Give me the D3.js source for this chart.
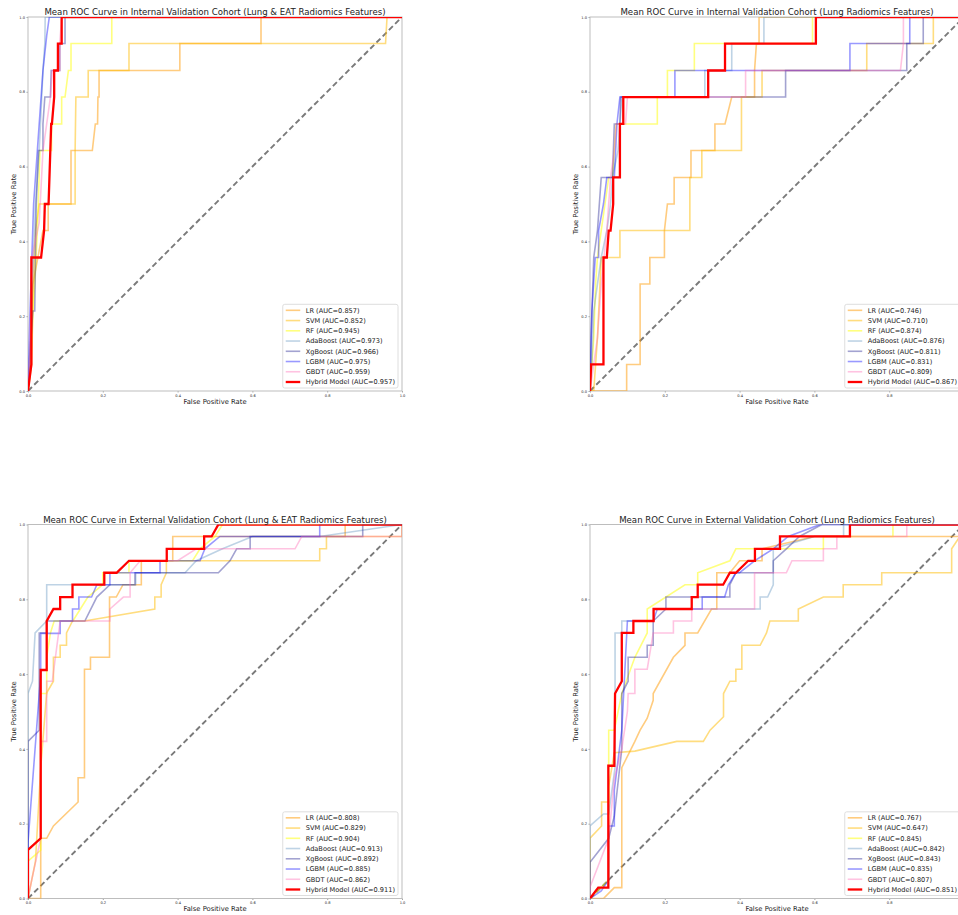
<!DOCTYPE html>
<html lang='en'>
  <head>
    <meta charset='utf-8'>
    <style type='text/css'>
      body {margin: 0; background-color: #fff;}
      svg text {font-family: 'DejaVu Sans', sans-serif; fill: #222;}
    </style>
  </head>
  <body>
    <svg id='chart' width='958' height='915'></svg>

    <script src='https://d3js.org/d3.v7.min.js'></script>
    <script type='text/javascript'>
        // legend order of the models
        var models = ["LR", "SVM", "RF", "AdaBoost", "XgBoost", "LGBM", "GBDT", "Hybrid Model"];

        var titles = [
          "Mean ROC Curve in Internal Validation Cohort (Lung & EAT Radiomics Features)",
          "Mean ROC Curve in Internal Validation Cohort (Lung Radiomics Features)",
          "Mean ROC Curve in External Validation Cohort (Lung & EAT Radiomics Features)",
          "Mean ROC Curve in External Validation Cohort (Lung Radiomics Features)"
        ];

        var aucIntLungEat = [0.857, 0.852, 0.945, 0.973, 0.966, 0.975, 0.959, 0.957];
        var aucIntLung    = [0.746, 0.710, 0.874, 0.876, 0.811, 0.831, 0.809, 0.867];
        var aucExtLungEat = [0.808, 0.829, 0.904, 0.913, 0.892, 0.885, 0.862, 0.911];
        var aucExtLung    = [0.767, 0.647, 0.845, 0.842, 0.843, 0.835, 0.807, 0.851];

        var tickValues = [0, 0.2, 0.4, 0.6, 0.8, 1.0];
        var tickLabels = ["0.0", "0.2", "0.4", "0.6", "0.8", "1.0"];

        // [fpr, tpr] points of each mean ROC curve, one list per model (legend order)
        var curvesIntLungEat = [
          [[0,0],[0.005,0.071],[0.01,0.214],[0.013,0.286],[0.04,0.429],[0.054,0.429],[0.054,0.5],[0.115,0.5],[0.115,0.643],[0.172,0.643],[0.18,0.714],[0.186,0.714],[0.187,0.786],[0.19,0.786],[0.19,0.857],[0.406,0.857],[0.406,0.929],[0.623,0.929],[0.623,1],[1,1]],
          [[0,0],[0.01,0.071],[0.014,0.286],[0.02,0.429],[0.03,0.5],[0.126,0.5],[0.126,0.643],[0.128,0.786],[0.161,0.786],[0.161,0.857],[0.27,0.857],[0.27,0.929],[0.956,0.929],[0.96,1],[1,1]],
          [[0,0],[0.008,0.071],[0.013,0.214],[0.018,0.286],[0.025,0.429],[0.032,0.643],[0.063,0.643],[0.063,0.714],[0.09,0.714],[0.09,0.786],[0.099,0.786],[0.108,0.857],[0.115,0.857],[0.115,0.929],[0.224,0.929],[0.224,1],[1,1]],
          [[0,0],[0.008,0.071],[0.012,0.3],[0.02,0.5],[0.03,0.643],[0.04,0.857],[0.045,0.929],[0.046,1],[1,1]],
          [[0,0],[0.005,0.1],[0.013,0.214],[0.018,0.214],[0.022,0.5],[0.028,0.643],[0.04,0.643],[0.04,0.714],[0.045,0.786],[0.06,0.786],[0.062,0.857],[0.085,0.857],[0.085,0.929],[0.099,0.929],[0.099,1],[1,1]],
          [[0,0],[0.005,0.2],[0.015,0.5],[0.025,0.643],[0.035,0.786],[0.04,0.857],[0.05,0.95],[0.057,1],[1,1]],
          [[0,0],[0.005,0.1],[0.01,0.357],[0.03,0.45],[0.04,0.643],[0.05,0.714],[0.06,0.786],[0.065,0.857],[0.085,0.857],[0.085,0.929],[0.09,1],[1,1]],
          [[0,0],[0.009,0.071],[0.009,0.357],[0.035,0.357],[0.043,0.429],[0.045,0.5],[0.055,0.5],[0.062,0.714],[0.064,0.714],[0.07,0.786],[0.07,0.857],[0.08,0.857],[0.08,0.929],[0.09,0.929],[0.09,1],[1,1]]
        ];

        var curvesIntLung = [
          [[0,0],[0.098,0],[0.098,0.071],[0.134,0.071],[0.134,0.286],[0.16,0.286],[0.16,0.357],[0.199,0.357],[0.199,0.429],[0.207,0.5],[0.225,0.5],[0.225,0.571],[0.27,0.571],[0.27,0.643],[0.334,0.643],[0.334,0.714],[0.361,0.714],[0.379,0.786],[0.44,0.786],[0.44,0.857],[0.445,0.929],[0.452,0.929],[0.452,1],[1,1]],
          [[0,0],[0.01,0],[0.015,0.071],[0.02,0.143],[0.03,0.357],[0.08,0.357],[0.08,0.429],[0.267,0.429],[0.267,0.571],[0.299,0.571],[0.299,0.643],[0.405,0.643],[0.405,0.786],[0.46,0.786],[0.46,0.857],[0.74,0.857],[0.74,0.929],[0.918,0.929],[0.918,1],[1,1]],
          [[0,0],[0.005,0.071],[0.01,0.143],[0.015,0.286],[0.02,0.357],[0.03,0.429],[0.04,0.5],[0.05,0.571],[0.06,0.571],[0.065,0.643],[0.07,0.714],[0.18,0.714],[0.18,0.786],[0.207,0.786],[0.207,0.857],[0.279,0.857],[0.279,0.929],[0.595,0.929],[0.595,1],[1,1]],
          [[0,0],[0.005,0.071],[0.01,0.214],[0.02,0.286],[0.03,0.357],[0.045,0.429],[0.055,0.5],[0.06,0.571],[0.075,0.643],[0.08,0.714],[0.085,0.786],[0.307,0.786],[0.307,0.857],[0.379,0.857],[0.379,0.929],[0.465,0.929],[0.465,1],[1,1]],
          [[0,0],[0.003,0.143],[0.01,0.357],[0.02,0.429],[0.025,0.5],[0.03,0.571],[0.06,0.571],[0.065,0.714],[0.08,0.714],[0.082,0.786],[0.523,0.786],[0.523,0.857],[0.847,0.857],[0.847,0.929],[0.891,0.929],[0.891,1],[1,1]],
          [[0,0],[0.005,0.214],[0.014,0.357],[0.023,0.357],[0.023,0.429],[0.036,0.5],[0.045,0.571],[0.065,0.571],[0.072,0.714],[0.08,0.786],[0.227,0.786],[0.227,0.857],[0.695,0.857],[0.695,0.929],[0.855,0.929],[0.855,1],[1,1]],
          [[0,0],[0.01,0.071],[0.02,0.143],[0.03,0.286],[0.045,0.429],[0.05,0.5],[0.055,0.571],[0.065,0.643],[0.07,0.714],[0.095,0.714],[0.1,0.786],[0.416,0.786],[0.416,0.857],[0.83,0.857],[0.838,0.929],[0.838,1],[1,1]],
          [[0,0],[0.003,0.071],[0.036,0.071],[0.036,0.357],[0.045,0.357],[0.05,0.429],[0.055,0.429],[0.062,0.5],[0.062,0.571],[0.08,0.571],[0.08,0.714],[0.089,0.714],[0.089,0.786],[0.316,0.786],[0.316,0.857],[0.361,0.857],[0.361,0.929],[0.604,0.929],[0.604,1],[1,1]]
        ];

        var curvesExtLungEat = [
          [[0,0],[0.034,0],[0.034,0.161],[0.05,0.161],[0.068,0.194],[0.134,0.258],[0.134,0.323],[0.151,0.323],[0.151,0.613],[0.167,0.613],[0.167,0.645],[0.218,0.645],[0.218,0.806],[0.236,0.806],[0.254,0.839],[0.303,0.839],[0.303,0.903],[0.387,0.903],[0.387,0.968],[0.848,0.968],[0.848,1],[1,1]],
          [[0,0],[0.02,0.1],[0.034,0.35],[0.05,0.55],[0.068,0.581],[0.068,0.645],[0.086,0.645],[0.086,0.677],[0.103,0.677],[0.103,0.71],[0.119,0.742],[0.151,0.742],[0.339,0.774],[0.339,0.806],[0.356,0.806],[0.356,0.839],[0.37,0.871],[0.37,0.903],[0.78,0.903],[0.78,0.935],[0.798,0.935],[0.798,0.968],[1,0.968],[1,1]],
          [[0,0],[0,0.1],[0.034,0.129],[0.034,0.548],[0.05,0.548],[0.05,0.645],[0.06,0.71],[0.07,0.742],[0.12,0.742],[0.14,0.774],[0.16,0.806],[0.2,0.839],[0.2,0.871],[0.27,0.871],[0.27,0.903],[0.44,0.903],[0.46,0.935],[0.5,0.968],[0.52,1],[1,1]],
          [[0,0],[0,0.548],[0.012,0.581],[0.019,0.71],[0.05,0.742],[0.05,0.839],[0.288,0.839],[0.288,0.871],[0.42,0.871],[0.45,0.903],[0.52,0.935],[0.6,0.968],[0.78,0.968],[1,1]],
          [[0,0],[0,0.42],[0.03,0.45],[0.03,0.71],[0.05,0.71],[0.05,0.742],[0.152,0.742],[0.184,0.806],[0.219,0.839],[0.286,0.839],[0.286,0.871],[0.509,0.871],[0.54,0.903],[0.558,0.935],[0.594,0.935],[0.594,0.968],[0.895,0.968],[0.895,1],[1,1]],
          [[0,0],[0,0.15],[0.034,0.6],[0.034,0.709],[0.086,0.709],[0.086,0.742],[0.119,0.742],[0.119,0.774],[0.136,0.774],[0.136,0.806],[0.17,0.806],[0.184,0.839],[0.219,0.839],[0.219,0.871],[0.353,0.871],[0.353,0.903],[0.46,0.903],[0.473,0.935],[0.513,0.968],[0.78,0.968],[0.78,1],[1,1]],
          [[0,0],[0.01,0.05],[0.034,0.161],[0.034,0.42],[0.05,0.42],[0.05,0.581],[0.065,0.581],[0.086,0.742],[0.219,0.742],[0.219,0.774],[0.255,0.806],[0.273,0.806],[0.273,0.871],[0.3,0.903],[0.4,0.903],[0.45,0.935],[0.714,0.935],[0.732,0.968],[1,0.968],[1,1]],
          [[0,0],[0,0.13],[0.034,0.161],[0.034,0.611],[0.05,0.611],[0.05,0.742],[0.068,0.774],[0.086,0.774],[0.086,0.806],[0.119,0.806],[0.119,0.839],[0.204,0.839],[0.204,0.871],[0.237,0.871],[0.27,0.903],[0.371,0.903],[0.371,0.935],[0.471,0.935],[0.471,0.968],[0.491,0.968],[0.509,1],[1,1]]
        ];

        var curvesExtLung = [
          [[0,0],[0.036,0],[0.065,0.029],[0.085,0.029],[0.085,0.35],[0.12,0.42],[0.134,0.45],[0.153,0.482],[0.169,0.53],[0.169,0.548],[0.223,0.645],[0.254,0.677],[0.254,0.71],[0.288,0.71],[0.325,0.774],[0.339,0.774],[0.339,0.871],[0.374,0.871],[0.4,0.903],[0.46,0.903],[0.46,0.935],[0.6,0.968],[1,0.968],[1,1]],
          [[0,0],[0,0.161],[0.031,0.194],[0.031,0.258],[0.05,0.258],[0.05,0.3],[0.065,0.39],[0.12,0.394],[0.232,0.42],[0.303,0.42],[0.321,0.45],[0.357,0.486],[0.357,0.548],[0.374,0.581],[0.39,0.581],[0.39,0.613],[0.406,0.613],[0.406,0.677],[0.455,0.677],[0.472,0.71],[0.481,0.742],[0.557,0.742],[0.557,0.774],[0.624,0.806],[0.677,0.806],[0.677,0.839],[0.78,0.839],[0.78,0.871],[0.967,0.871],[0.967,0.935],[0.989,0.968],[1,1]],
          [[0,0],[0.03,0.03],[0.05,0.05],[0.05,0.45],[0.065,0.45],[0.085,0.548],[0.12,0.645],[0.153,0.71],[0.153,0.774],[0.254,0.839],[0.288,0.839],[0.288,0.871],[0.374,0.903],[0.39,0.935],[0.624,0.935],[0.624,0.968],[0.81,0.968],[0.81,1],[1,1]],
          [[0,0],[0,0.194],[0.036,0.226],[0.05,0.226],[0.06,0.3],[0.067,0.35],[0.067,0.71],[0.085,0.71],[0.085,0.742],[0.17,0.742],[0.17,0.774],[0.455,0.774],[0.455,0.806],[0.475,0.806],[0.49,0.839],[0.49,0.935],[0.6,0.968],[0.678,0.968],[0.678,1],[1,1]],
          [[0,0],[0,0.097],[0.05,0.161],[0.065,0.22],[0.085,0.4],[0.085,0.548],[0.102,0.581],[0.102,0.645],[0.153,0.645],[0.153,0.677],[0.169,0.677],[0.169,0.742],[0.203,0.774],[0.203,0.806],[0.374,0.806],[0.374,0.839],[0.39,0.871],[0.49,0.871],[0.49,0.903],[0.525,0.935],[0.56,0.968],[0.62,1],[1,1]],
          [[0,0],[0.03,0.02],[0.05,0.05],[0.05,0.194],[0.065,0.194],[0.065,0.29],[0.085,0.45],[0.1,0.742],[0.169,0.742],[0.18,0.774],[0.3,0.774],[0.3,0.806],[0.36,0.806],[0.37,0.839],[0.39,0.871],[0.4,0.871],[0.44,0.903],[0.49,0.935],[0.53,0.968],[0.615,1],[1,1]],
          [[0,0],[0,0.03],[0.05,0.16],[0.065,0.32],[0.085,0.4],[0.1,0.5],[0.102,0.548],[0.12,0.548],[0.12,0.613],[0.153,0.613],[0.169,0.71],[0.223,0.71],[0.223,0.742],[0.272,0.742],[0.272,0.774],[0.44,0.774],[0.44,0.871],[0.525,0.871],[0.54,0.903],[0.624,0.903],[0.624,0.935],[0.66,0.935],[0.66,0.968],[0.847,0.968],[0.847,1],[1,1]],
          [[0,0],[0.022,0.029],[0.049,0.029],[0.049,0.355],[0.065,0.355],[0.067,0.548],[0.085,0.581],[0.085,0.71],[0.116,0.71],[0.116,0.742],[0.17,0.742],[0.17,0.774],[0.272,0.774],[0.272,0.806],[0.288,0.806],[0.288,0.839],[0.356,0.839],[0.374,0.871],[0.39,0.871],[0.423,0.903],[0.441,0.903],[0.441,0.935],[0.508,0.935],[0.508,0.968],[0.695,0.968],[0.695,1],[1,1]]
        ];

        // line styles per model
        var lineColors  = ["#ff9900", "#ffbb00", "#ffff00", "#4682b4", "#333399", "#0000ff", "#ff69b4", "#ff0000"];
        var lineAlpha   = [0.5, 0.5, 0.5, 0.35, 0.45, 0.4, 0.4, 1];
        var lineWidths  = [1.6, 1.6, 1.6, 1.6, 1.6, 1.6, 1.6, 2.3];

        var panels = [
          {title: titles[0], curves: curvesIntLungEat, auc: aucIntLungEat, left: 28,  top: 17},
          {title: titles[1], curves: curvesIntLung,    auc: aucIntLung,    left: 590, top: 17},
          {title: titles[2], curves: curvesExtLungEat, auc: aucExtLungEat, left: 28,  top: 524.5},
          {title: titles[3], curves: curvesExtLung,    auc: aucExtLung,    left: 590, top: 524.5}
        ];

        var size = 374;
        var pageW = 958;
        var svg = d3.select("#chart");
        var defs = svg.append("defs");

        var x = d3.scaleLinear().domain([0, 1]).range([0, size]);
        var y = d3.scaleLinear().domain([0, 1]).range([size, 0]);

        var line = d3.line()
            .x(function(d) { return x(d[0]); })
            .y(function(d) { return y(d[1]); });

        panels.forEach(function(p, pi) {
          var g = svg.append("g")
              .attr("transform", "translate(" + p.left + "," + p.top + ")");

          defs.append("clipPath").attr("id", "clip" + pi)
            .append("rect").attr("width", size).attr("height", size);

          // axes with tiny ticks
          var xAxis = d3.axisBottom(x).tickValues(tickValues)
              .tickFormat(function(d, i) { return tickLabels[i]; })
              .tickSize(1.5).tickPadding(1.5);
          var yAxis = d3.axisLeft(y).tickValues(tickValues)
              .tickFormat(function(d, i) { return tickLabels[i]; })
              .tickSize(1.5).tickPadding(1.5);

          var gx = g.append("g").attr("transform", "translate(0," + size + ")").call(xAxis);
          var gy = g.append("g").call(yAxis);
          [gx, gy].forEach(function(a) {
            a.select(".domain").remove();
            a.selectAll("line").attr("stroke", "#666").attr("stroke-width", 0.6);
            a.selectAll("text").attr("font-size", 3.6).attr("fill", "#333")
              .attr("font-family", "'DejaVu Sans', sans-serif");
          });
          // the right column runs past the page edge: drop labels that fall outside it
          gx.selectAll(".tick text")
            .filter(function(d) { return p.left + x(d) + 4 > pageW; })
            .remove();

          // spines
          g.append("rect")
              .attr("width", size).attr("height", size)
              .attr("fill", "none").attr("stroke", "#bdbdbd").attr("stroke-width", 1);

          var plot = g.append("g").attr("clip-path", "url(#clip" + pi + ")");

          // chance line
          plot.append("path")
              .datum([[0, 0], [1, 1]])
              .attr("d", line)
              .attr("fill", "none")
              .attr("stroke", "#7a7a7a")
              .attr("stroke-width", 1.9)
              .attr("stroke-dasharray", "5.6,3.2");

          // the ROC curves
          p.curves.forEach(function(c, i) {
            plot.append("path")
                .datum(c)
                .attr("d", line)
                .attr("fill", "none")
                .attr("stroke", lineColors[i])
                .attr("stroke-opacity", lineAlpha[i])
                .attr("stroke-width", lineWidths[i]);
          });

          // title and axis labels
          g.append("text")
              .attr("x", size / 2).attr("y", -1.8)
              .attr("text-anchor", "middle")
              .attr("font-size", 8.6)
              .text(p.title);

          g.append("text")
              .attr("x", size / 2).attr("y", size + 12.5)
              .attr("text-anchor", "middle")
              .attr("font-size", 6.8)
              .text("False Positive Rate");

          g.append("text")
              .attr("transform", "translate(-12.5," + (size / 2) + ") rotate(-90)")
              .attr("text-anchor", "middle")
              .attr("font-size", 6.8)
              .text("True Positive Rate");

          // legend, lower right
          var rowH = 10.24;
          var leg = g.append("g");
          var box = leg.append("rect")
              .attr("rx", 2).attr("ry", 2)
              .attr("fill", "#fff").attr("fill-opacity", 0.85)
              .attr("stroke", "#d6d6d6").attr("stroke-width", 0.8);

          var maxW = 0;
          models.forEach(function(m, i) {
            var cy = 6 + i * rowH;
            leg.append("line")
                .attr("x1", 3).attr("x2", 17.5)
                .attr("y1", cy).attr("y2", cy)
                .attr("stroke", lineColors[i])
                .attr("stroke-opacity", lineAlpha[i])
                .attr("stroke-width", lineWidths[i]);
            var t = leg.append("text")
                .attr("x", 23).attr("y", cy).attr("dy", "0.35em")
                .attr("font-size", 6.6)
                .text(m + " (AUC=" + p.auc[i].toFixed(3) + ")");
            maxW = Math.max(maxW, t.node().getComputedTextLength());
          });

          var boxW = 23 + maxW + 3;
          var boxH = 6 + 7 * rowH + 6;
          box.attr("width", boxW).attr("height", boxH);
          leg.attr("transform", "translate(" + (size - 4 - boxW) + "," + (size - 3 - boxH) + ")");
        });
    </script>
  </body>
</html>
